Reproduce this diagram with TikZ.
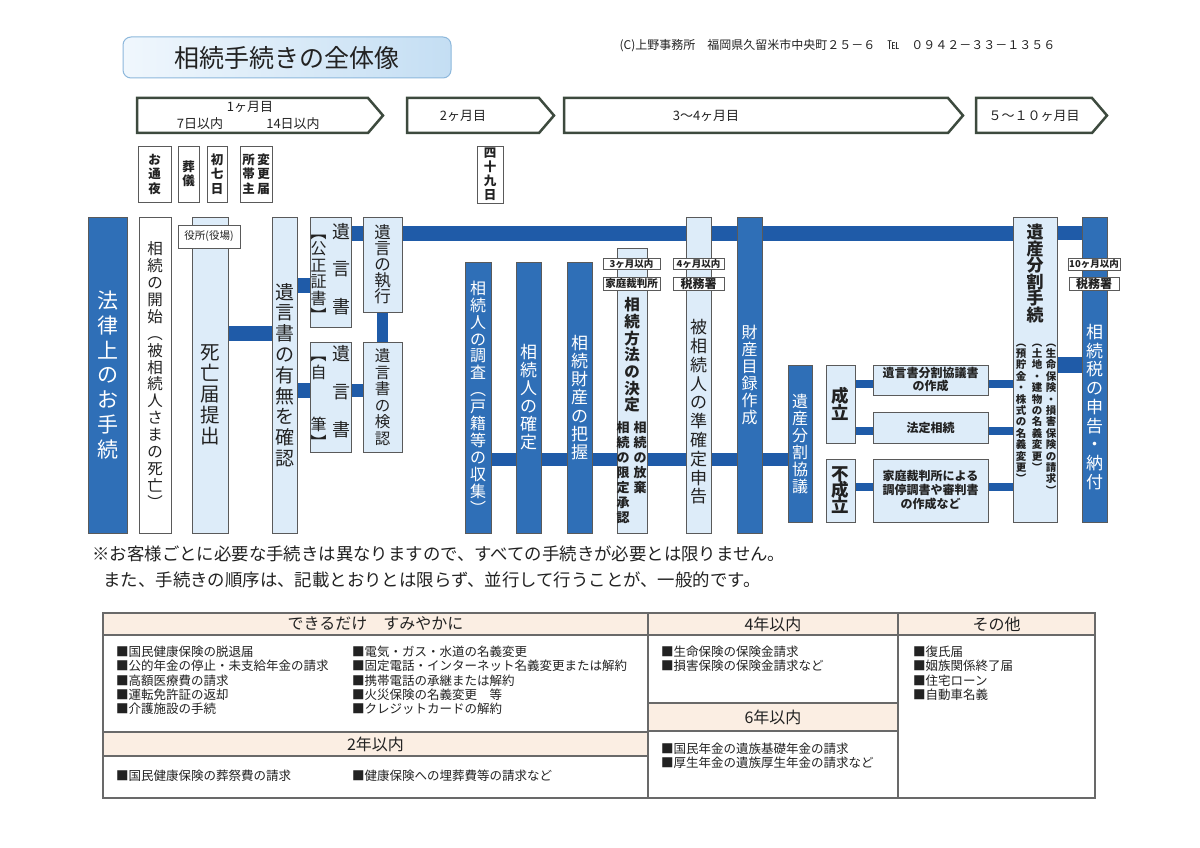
\documentclass[tikz,border=0pt]{standalone}
\usepackage{fontspec}
\setmainfont{Noto Sans CJK JP}
\usepackage{tikz}
\usetikzlibrary{backgrounds}
\definecolor{boxblue}{RGB}{47,111,183}
\definecolor{barblue}{RGB}{31,91,168}
\definecolor{boxlight}{RGB}{221,236,249}
\definecolor{boxline}{RGB}{90,90,90}
\definecolor{bandline}{RGB}{61,74,62}
\definecolor{headfill}{RGB}{251,238,227}
\definecolor{tabline}{RGB}{105,105,105}
\definecolor{titleline}{RGB}{141,184,220}
\definecolor{titlel}{RGB}{240,247,253}
\definecolor{titler}{RGB}{196,222,243}
\definecolor{inkgray}{RGB}{34,34,34}

\makeatletter
\newcommand\tate[2]{\vtop{\baselineskip=#1pt\lineskiplimit=-100pt\lineskip=0pt\@tfor\tatech:=#2\do{\hbox to 1em{\hss\tatech\hss}}}}
\makeatother
\newcommand\fs[1]{\fontsize{#1}{#1}\selectfont}

\begin{document}
\begin{tikzpicture}[x=1pt,y=-1pt,
  dbox/.style={draw=boxline,fill=boxblue,text=white,line width=0.8pt,inner sep=0pt},
  lbox/.style={draw=boxline,fill=boxlight,text=inkgray,line width=0.8pt,inner sep=0pt},
  wbox/.style={draw=boxline,fill=white,text=inkgray,line width=0.8pt,inner sep=0pt},
  tag/.style={draw=boxline,fill=white,text=inkgray,line width=0.8pt,inner sep=0pt},
  bar/.style={draw=barblue,line width=15pt},
  thinbar/.style={draw=barblue,line width=8.5pt},
  band/.style={draw=bandline,line width=2.5pt,fill=white,line join=miter}]
\useasboundingbox (0,0) rectangle (1200,848);
\begin{pgfonlayer}{background}
\fill[white] (0,0) rectangle (1200,848);
\end{pgfonlayer}

\node[draw=titleline, line width=1pt, rounded corners=8pt, left color=titlel, right color=titler, minimum width=328, minimum height=41, text=inkgray, font=\fs{25}] (title) at (287,57.5) {相続手続きの全体像};
\node[anchor=west, text=inkgray, font=\fs{12}] (copy) at (616,45.5) {(C)上野事務所　福岡県久留米市中央町２５－６　℡　０９４２－３３－１３５６};

\draw[band] (137,98) -- (368,98) -- (383,115.5) -- (368,133) -- (137,133) -- cycle;
\draw[band] (407,98) -- (539,98) -- (554,115.5) -- (539,133) -- (407,133) -- cycle;
\draw[band] (564,98) -- (948,98) -- (963,115.5) -- (948,133) -- (564,133) -- cycle;
\draw[band] (976,98) -- (1092,98) -- (1107,115.5) -- (1092,133) -- (976,133) -- cycle;

\begin{scope}[every node/.style={text=inkgray, font=\fs{13}}]
\node (m1) at (250,107) {1ヶ月目};
\node (m1a) at (200,124) {7日以内};
\node (m1b) at (293,124) {14日以内};
\node (m2) at (463,116) {2ヶ月目};
\node (m3) at (706,116) {3～4ヶ月目};
\node (m4) at (1034,116) {５～１０ヶ月目};
\end{scope}

\begin{scope}[every node/.style={wbox, minimum height=56, font=\fs{12.5}\bfseries}]
\node[minimum width=33] (22) at (154.5,174) {\tate{14.5}{お通夜}};
\node[minimum width=21] (23) at (188.5,174) {\tate{13.5}{葬儀}};
\node[minimum width=20] (24) at (217,174) {\tate{14.5}{初七日}};
\node[minimum width=32] (25) at (256,174) {\hbox{\tate{14.5}{所帯主}\hspace{2.5pt}\tate{14.5}{変更届}}};
\node[minimum width=26, minimum height=57] (26) at (490,174.5) {\tate{14}{四十九日}};
\end{scope}

\node[dbox, minimum width=39, minimum height=316, font=\fs{21}] (0) at (107.5,375) {\tate{24.7}{法律上のお手続}};
\node[wbox, minimum width=32, minimum height=316, font=\fs{15.5}] (1) at (155,375) {\tate{16.9}{相続の開始︵被相続人さまの死亡︶}};
\node[lbox, minimum width=36, minimum height=316] (2) at (210,375) {};
\node[text=inkgray, font=\fs{19.5}] (2t) at (210,395) {\tate{21}{死亡届提出}};
\node[tag, minimum width=62, minimum height=23, font=\fs{10.5}] (2a) at (209,236.5) {役所(役場)};
\node[lbox, minimum width=25, minimum height=316, font=\fs{19}] (3) at (284.5,375) {\tate{20.8}{遺言書の有無を確認}};
\node[lbox, minimum width=41, minimum height=110] (4) at (330.5,272) {\hbox{\fs{16}\tate{16.6}{︻公正証書︼}\hspace{6pt}\fs{18}\tate{37.5}{遺言書}}};
\node[lbox, minimum width=41, minimum height=110] (5) at (330.5,397) {\hbox{\fs{16}\tate{17.6}{︻自{}{}筆︼}\hspace{6pt}\fs{18}\tate{38}{遺言書}}};
\node[lbox, minimum width=39, minimum height=95, font=\fs{16.5}] (6) at (382.5,264.5) {\tate{16}{遺言の執行}};
\node[lbox, minimum width=39, minimum height=110, font=\fs{15.5}] (7) at (382.5,397) {\tate{16.6}{遺言書の検認}};

\node[dbox, minimum width=26, minimum height=271, font=\fs{16}] (8) at (478,397.5) {\tate{16.9}{相続人の調査︵戸籍等の収集︶}};
\node[dbox, minimum width=25, minimum height=271, font=\fs{17}] (9) at (528.5,397.5) {\tate{18}{相続人の確定}};
\node[dbox, minimum width=25, minimum height=271, font=\fs{17}] (10) at (579.5,397.5) {\tate{18.3}{相続財産の把握}};
\node[lbox, minimum width=30, minimum height=285] (11) at (632,390.5) {};
\node[text=inkgray, font=\fs{15.5}\bfseries] (11a) at (632,355) {\tate{16.7}{相続方法の決定}};
\node[text=inkgray, font=\fs{13}\bfseries] (11b) at (631.5,473) {\hbox{\tate{15}{相続の限定承認}\hspace{4pt}\tate{15}{相続の放棄}}};
\node[tag, minimum width=57, minimum height=11, font=\fs{9.5}\bfseries] (11c) at (631.5,263.5) {3ヶ月以内};
\node[tag, minimum width=57, minimum height=13, font=\fs{10.5}\bfseries] (11d) at (631.5,283.5) {家庭裁判所};
\node[lbox, minimum width=25, minimum height=316] (12) at (698.5,375) {};
\node[text=inkgray, font=\fs{17}] (12a) at (698.5,412) {\tate{18.8}{被相続人の準確定申告}};
\node[tag, minimum width=51, minimum height=11, font=\fs{9.5}\bfseries] (12b) at (698.5,263.5) {4ヶ月以内};
\node[tag, minimum width=51, minimum height=13, font=\fs{12}\bfseries] (12c) at (698.5,283.5) {税務署};
\node[dbox, minimum width=25, minimum height=316, font=\fs{16}] (13) at (749.5,375) {\tate{17}{財産目録作成}};
\node[dbox, minimum width=24, minimum height=157, font=\fs{16}] (14) at (800,443.5) {\tate{17}{遺産分割協議}};

\node[lbox, minimum width=29, minimum height=78, font=\fs{17.5}\bfseries] (15) at (840.5,404) {\tate{17}{成立}};
\node[lbox, minimum width=29, minimum height=63, font=\fs{17.5}\bfseries] (16) at (840.5,490.5) {\tate{16}{不成立}};
\node[lbox, minimum width=115, minimum height=30, align=center, font={\fontsize{12}{13}\selectfont\bfseries}] (17) at (930.5,380) {遺言書分割協議書\\の作成};
\node[lbox, minimum width=115, minimum height=31, font=\fs{12}\bfseries] (18) at (930.5,427.5) {法定相続};
\node[lbox, minimum width=115, minimum height=63, align=center, font={\fontsize{12}{14}\selectfont\bfseries}] (19) at (930.5,490.5) {家庭裁判所による\\調停調書や審判書\\の作成など};
\node[lbox, minimum width=44, minimum height=305] (20) at (1035,369.5) {};
\node[text=inkgray, font=\fs{17}\bfseries] (20a) at (1035,273.5) {\tate{16.6}{遺産分割手続}};
\node[text=inkgray, font=\fs{10.5}\bfseries] (20b) at (1036,419) {\hbox{\tate{11.4}{︵預貯金・株式の名義変更︶}\hspace{5.5pt}\tate{11.4}{︵土地・建物の名義変更︶}\hspace{3.5pt}\tate{11.4}{︵生命保険・損害保険の請求︶}}};
\node[dbox, minimum width=25, minimum height=305] (21) at (1094.5,369.5) {};
\node[text=white, font=\fs{17}] (21a) at (1094.5,407) {\tate{18.75}{相続税の申告・納付}};
\node[tag, minimum width=52, minimum height=12, font=\fs{9.5}\bfseries] (21b) at (1094,264) {10ヶ月以内};
\node[tag, minimum width=50, minimum height=13, font=\fs{12}\bfseries] (21c) at (1094,283.5) {税務署};

\begin{pgfonlayer}{background}
\draw[bar] (2.east |- 0,333) -- (3.west |- 0,333);
\draw[bar] (3.east |- 0,285) -- (4.west |- 0,285);
\draw[bar] (3.east |- 0,390) -- (5.west |- 0,390);
\draw[bar] (4.east |- 0,233) -- (6.west |- 0,233);
\draw[bar, line width=13pt] (5.east |- 0,390) -- (7.west |- 0,390);
\draw[bar, line width=11pt] (6.south) -- (7.north);
\draw[bar] (6.east |- 0,233) -- (20.west |- 0,233);
\draw[bar, line width=13pt] (8.east |- 0,459.5) -- (14.west |- 0,459.5);
\draw[bar, line width=14pt] (20.east |- 0,233) -- (21.west |- 0,233);
\draw[bar, line width=16pt] (20.east |- 0,365) -- (21.west |- 0,365);
\draw[thinbar] (15.east |- 0,384) -- (17.west |- 0,384);
\draw[thinbar] (15.east |- 0,431) -- (18.west |- 0,431);
\draw[thinbar] (16.east |- 0,487) -- (19.west |- 0,487);
\draw[thinbar] (17.east |- 0,384) -- (20.west |- 0,384);
\draw[thinbar] (18.east |- 0,431) -- (20.west |- 0,431);
\draw[thinbar] (19.east |- 0,487) -- (20.west |- 0,487);
\end{pgfonlayer}

\node[anchor=west, text=inkgray, font=\fs{17.4}] (n1) at (89,554) {※お客様ごとに必要な手続きは異なりますので、すべての手続きが必要とは限りません。};
\node[anchor=west, text=inkgray, font=\fs{17.4}] (n2) at (100,580) {また、手続きの順序は、記載とおりとは限らず、並行して行うことが、一般的です。};

\fill[headfill] (103,613) rectangle (1095,635);
\fill[headfill] (103,732) rectangle (648,756);
\fill[headfill] (648,703) rectangle (898,731);
\draw[tabline, line width=1.5pt] (103,613) rectangle (1095,798);
\draw[tabline, line width=1.5pt] (648,613) -- (648,798);
\draw[tabline, line width=1.5pt] (898,613) -- (898,798);
\draw[tabline, line width=1.5pt] (103,635) -- (1095,635);
\draw[tabline, line width=1.5pt] (103,732) -- (648,732);
\draw[tabline, line width=1.5pt] (103,756) -- (648,756);
\draw[tabline, line width=1.5pt] (648,703) -- (898,703);
\draw[tabline, line width=1.5pt] (648,731) -- (898,731);

\begin{scope}[every node/.style={text=inkgray, font=\fs{16}}]
\node (h1) at (375.5,624) {できるだけ　すみやかに};
\node (h2) at (375.5,744) {2年以内};
\node (h3) at (773,624) {4年以内};
\node (h4) at (773,717) {6年以内};
\node (h5) at (996.5,624) {その他};
\end{scope}

\begin{scope}[every node/.style={anchor=north west, align=left, inner sep=0pt, text=inkgray, font={\fontsize{12.5}{14.3}\selectfont}}]
\node (b1) at (116,645.8) {■国民健康保険の脱退届\\■公的年金の停止・未支給年金の請求\\■高額医療費の請求\\■運転免許証の返却\\■介護施設の手続};
\node (b2) at (352,645.8) {■電気・ガス・水道の名義変更\\■固定電話・インターネット名義変更または解約\\■携帯電話の承継または解約\\■火災保険の名義変更　等\\■クレジットカードの解約};
\node (b3) at (116,769.8) {■国民健康保険の葬祭費の請求};
\node (b4) at (352,769.8) {■健康保険への埋葬費等の請求など};
\node (b5) at (661,645.8) {■生命保険の保険金請求\\■損害保険の保険金請求など};
\node (b6) at (661,742.8) {■国民年金の遺族基礎年金の請求\\■厚生年金の遺族厚生年金の請求など};
\node (b7) at (913,645.8) {■復氏届\\■姻族関係終了届\\■住宅ローン\\■自動車名義};
\end{scope}
\end{tikzpicture}
\end{document}
